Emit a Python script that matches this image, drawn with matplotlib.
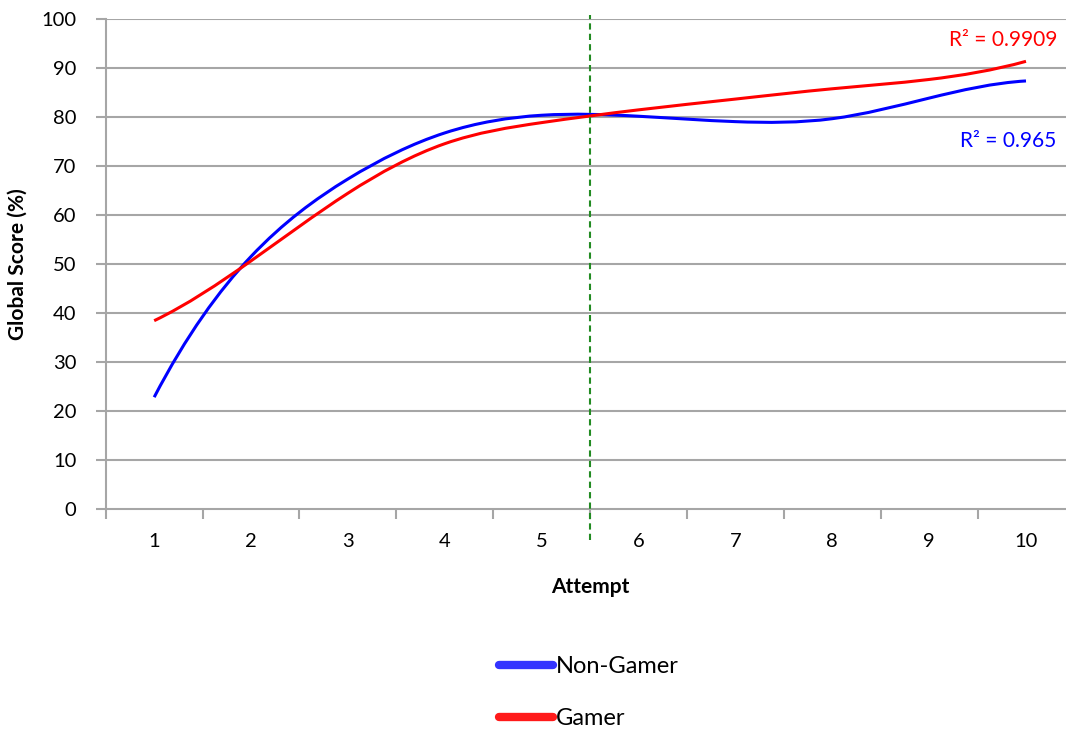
import matplotlib
matplotlib.use("Agg")
import matplotlib.pyplot as plt
from matplotlib.path import Path
from matplotlib.patches import PathPatch
from matplotlib.lines import Line2D
import numpy as np

plt.rcParams['font.family'] = ['Lato', 'DejaVu Sans']

attempts = [1, 2, 3, 4, 5, 6, 7, 8, 9, 10]
non_gamer = [22.8, 51.5, 67.3, 76.7, 80.3, 80.1, 79.0, 79.6, 83.8, 87.3]
gamer = [38.4, 50.6, 64.4, 74.5, 78.8, 81.4, 83.6, 85.7, 87.6, 91.3]
r2_non_gamer = "R\u00b2 = 0.965"
r2_gamer = "R\u00b2 = 0.9909"
split_at = 5.5

grid_col = "#A6A6A6"


def spline_path(xs, ys):
    """Not-a-knot cubic spline (unit spacing) written out as bezier segments."""
    x = np.asarray(xs, float)
    y = np.asarray(ys, float)
    n = len(y)
    A = np.zeros((n, n))
    b = np.zeros(n)
    A[0, :3] = [1, -2, 1]
    A[-1, -3:] = [1, -2, 1]
    for i in range(1, n - 1):
        A[i, i - 1:i + 2] = [1, 4, 1]
        b[i] = 6 * (y[i + 1] - 2 * y[i] + y[i - 1])
    M = np.linalg.solve(A, b)
    m = np.zeros(n)
    m[:-1] = (y[1:] - y[:-1]) - (2 * M[:-1] + M[1:]) / 6
    m[-1] = (y[-1] - y[-2]) + (M[-2] + 2 * M[-1]) / 6
    verts = [(x[0], y[0])]
    codes = [Path.MOVETO]
    for i in range(n - 1):
        h = x[i + 1] - x[i]
        verts += [(x[i] + h / 3, y[i] + m[i] * h / 3),
                  (x[i + 1] - h / 3, y[i + 1] - m[i + 1] * h / 3),
                  (x[i + 1], y[i + 1])]
        codes += [Path.CURVE4] * 3
    return Path(verts, codes)


fig = plt.figure(figsize=(10.66, 7.29), dpi=100)
ax = fig.add_axes([0.0992, 0.3018, 0.9087, 0.6726])

ax.set_xlim(0.5, 10.5)
ax.set_ylim(0, 100)

for yv in range(10, 101, 10):
    ax.axhline(yv, color=grid_col, lw=1.5, zorder=1)

ax.add_patch(PathPatch(spline_path(attempts, non_gamer), fill=False,
                       edgecolor="#0000FF", lw=2.2, zorder=3))
ax.add_patch(PathPatch(spline_path(attempts, gamer), fill=False,
                       edgecolor="#FF0000", lw=2.2, zorder=4))

ax.axvline(split_at, ymin=-0.063, ymax=1.008, color="#228B22", lw=1.5,
           ls=(0, (3, 2)), clip_on=False, zorder=5)

for s in ['top', 'right']:
    ax.spines[s].set_visible(False)
for s in ['left', 'bottom']:
    ax.spines[s].set_color(grid_col)
    ax.spines[s].set_linewidth(1.5)

ax.set_yticks(range(0, 101, 10))
ax.set_xticks(np.arange(0.5, 10.6, 1.0))
ax.set_xticklabels([])
ax.set_xticks(attempts, minor=True)
ax.set_xticklabels([str(a) for a in attempts], minor=True)
ax.tick_params(axis='y', which='major', length=7, width=1.5, color=grid_col,
               labelsize=14.5, pad=14)
ax.tick_params(axis='x', which='major', length=7, width=1.5, color=grid_col)
ax.tick_params(axis='x', which='minor', length=0, labelsize=14.5, pad=17)

ax.set_ylabel("Global Score (%)", fontsize=15, fontweight='bold', labelpad=10)
ax.set_xlabel("Attempt", fontsize=15, fontweight='bold', labelpad=20)

# R² labels placed in pixel coordinates (y measured from the top)
ax.text(1057, 729 - 40, r2_gamer, transform=None, color="#FF0000",
        fontsize=15, ha='right', va='center')
ax.text(1056, 729 - 141, r2_non_gamer, transform=None, color="#0000FF",
        fontsize=15, ha='right', va='center')

handles = [Line2D([], [], color="#3333FF", lw=6, solid_capstyle='round'),
           Line2D([], [], color="#FF1A1A", lw=6, solid_capstyle='round')]
fig.legend(handles, ["Non-Gamer", "Gamer"], loc='upper left',
           bbox_to_anchor=(499 / 1066, 1 - 656 / 729), frameon=False,
           fontsize=17, handlelength=2.3, handletextpad=0.1,
           labelspacing=1.31, borderpad=0, borderaxespad=0)

fig.savefig("out.png", dpi=100)
